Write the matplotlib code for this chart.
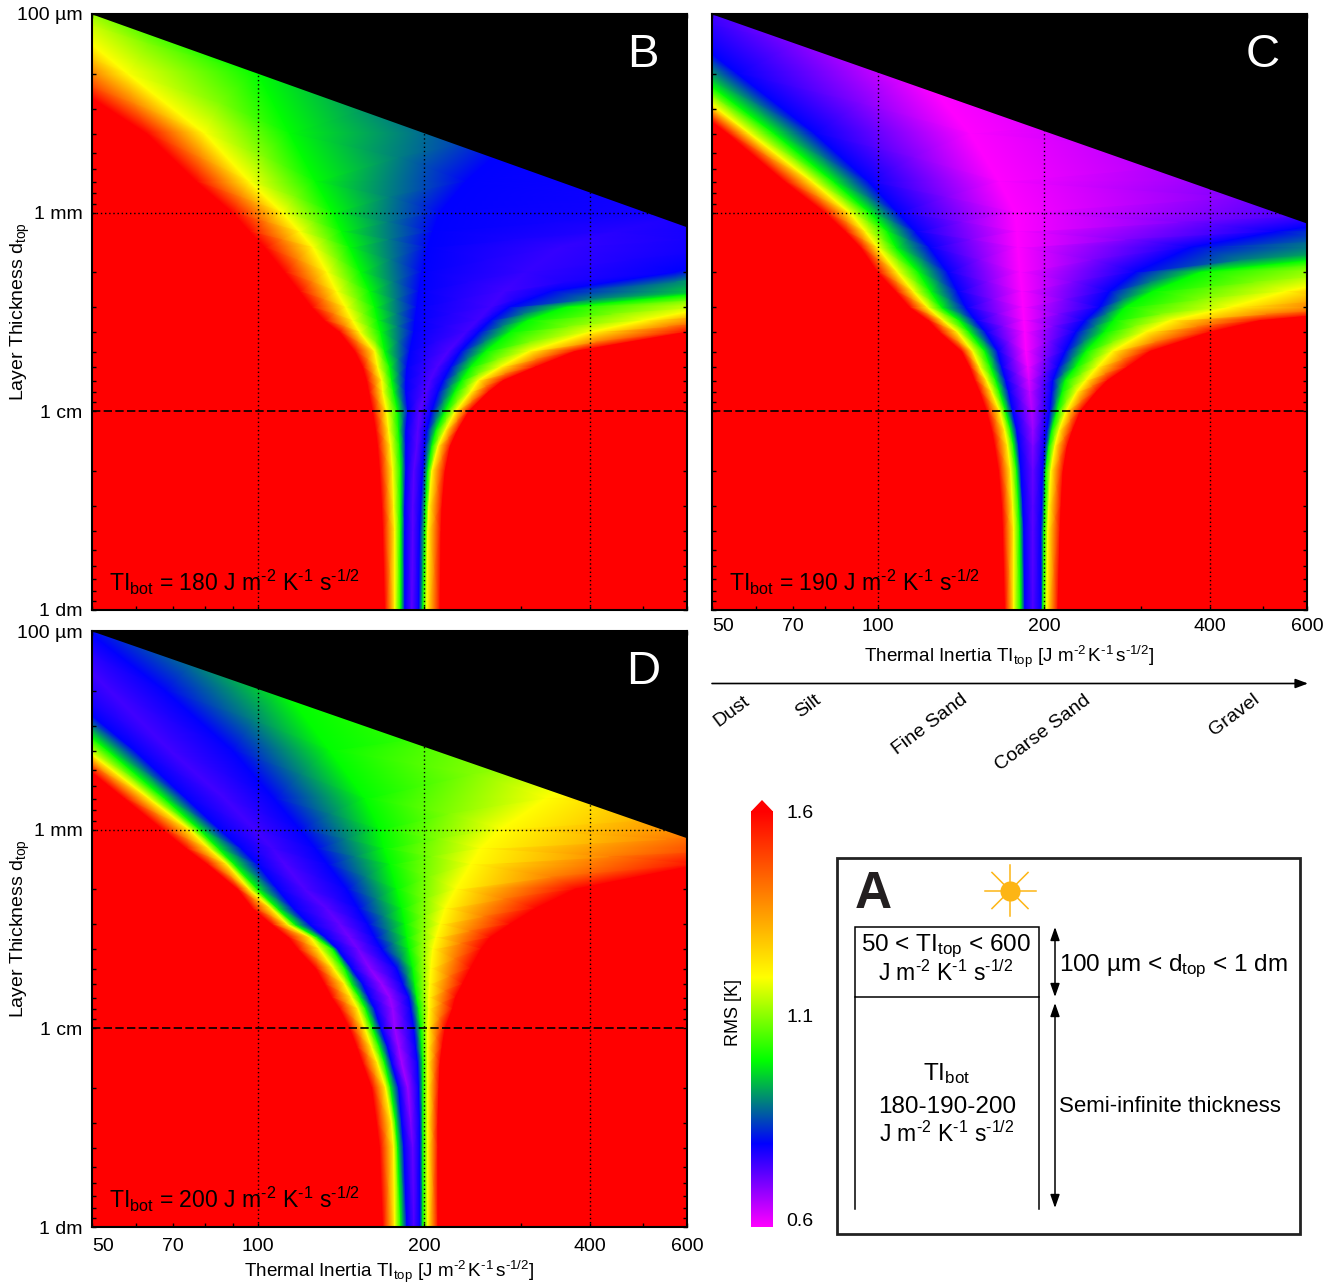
import numpy as np
import matplotlib
matplotlib.use("Agg")
import matplotlib.pyplot as plt
from matplotlib.colors import LinearSegmentedColormap
from matplotlib.patches import Rectangle, Polygon
from matplotlib.ticker import NullFormatter, FixedLocator, LogLocator

plt.rcParams['font.family'] = ['Liberation Sans', 'DejaVu Sans']
plt.rcParams['mathtext.fontset'] = 'custom'
plt.rcParams['mathtext.rm'] = 'Liberation Sans'
plt.rcParams['mathtext.it'] = 'Liberation Sans:italic'
plt.rcParams['mathtext.bf'] = 'Liberation Sans:bold'

W, H = 1338, 1287

# Layer thickness (mm) of each table row
THICKNESS_MM = [0.1, 0.2, 0.4, 0.7, 1, 1.25, 1.5, 2, 2.5, 3, 3.5, 4, 5, 6, 7, 8, 10, 12.5, 15, 20, 30, 40, 100]

# RMS read at the isolines
RMS_RED, RMS_YELLOW, RMS_GREEN, RMS_BLUE = 1.6, 1.2, 1.0, 0.8

# Thermal inertia at which each row crosses: red, yellow, green, blue (left),
# the minimum, then blue, green, yellow, red (right)
B_TI = [
    [30.0, 42.9, 63.7, 180, 800, 1500, 2000, 3000, 4000],
    [42.8, 58.1, 100, 230, 1000, 1500, 2000, 3000, 4000],
    [62.9, 80.2, 114.3, 299, 780, 1500, 2000, 3000, 4000],
    [77.5, 96.7, 127.4, 238.2, 900, 1500, 2000, 3000, 4000],
    [90, 110.9, 136.8, 214, 620, 1100, 1800, 2500, 4000],
    [96.7, 119.2, 142, 207.6, 445, 950, 1400, 2100, 3500],
    [103, 126, 146.8, 203.3, 353, 800, 1100, 1800, 3000],
    [111.9, 133.5, 153.7, 198.3, 305.5, 570, 800, 1300, 2000],
    [119.2, 139, 159.6, 195.8, 278.8, 338.7, 690, 1000, 1500],
    [125.3, 144.4, 163, 194.2, 263.6, 284.7, 361, 660, 1000],
    [132.2, 148.7, 165, 192.6, 250, 263.6, 308, 500, 780],
    [140.8, 153.1, 167.1, 191.8, 238.2, 251, 286.6, 400, 600],
    [150, 163, 169.9, 188.6, 221.5, 233, 258.7, 310.5, 376],
    [155, 165, 173.5, 186.3, 211.2, 223.3, 243, 275, 318.5],
    [157.6, 167.8, 174.9, 185.5, 205, 216.7, 234, 251, 278.8],
    [159, 168.5, 176.4, 185.5, 201.6, 212.1, 227.4, 243, 262],
    [161.6, 171.3, 179.4, 187.1, 196.6, 206.7, 218.6, 228.3, 241.5],
    [163.7, 172.7, 180.1, 185.5, 195, 202.5, 210.3, 218.6, 230.2],
    [165, 174.2, 180.9, 185.5, 194.2, 200.8, 206.7, 212.1, 223.3],
    [166.4, 175.6, 181.7, 185.5, 191.8, 199.1, 203.3, 206.7, 218.6],
    [167.8, 176.4, 181.7, 184.7, 191, 197.5, 201.6, 204.2, 215.8],
    [168.5, 177.2, 181.7, 184.7, 191, 196.6, 200.8, 203.3, 214.9],
    [169.9, 177.2, 181.7, 184.7, 190.2, 195.8, 199.1, 202.5, 214],
]
B_MIN_RMS = [.78, .78, .78, .78, .78, .77, .76, .76, .75, .75, .75, .75, .74, .74, .74, .735, .73, .73, .73, .73, .73, .73, .73]

C_TI = [
    [27.6, 30.6, 33.7, 40.4, 96.7, 2000, 3000, 4000, 6000],
    [38.4, 42.4, 46.6, 55.7, 119, 2000, 3000, 4000, 6000],
    [53.4, 58.6, 65, 76.9, 146.8, 2000, 3000, 4000, 6000],
    [67.9, 76.2, 83.3, 96.3, 166, 1500, 2500, 4000, 6000],
    [80.2, 88.9, 96.7, 108.7, 177.2, 900, 1800, 2500, 4000],
    [87.4, 95.1, 104.2, 117.2, 178.6, 525, 1200, 1800, 2500],
    [93.1, 100, 108, 124.2, 179.4, 368, 1000, 1500, 2000],
    [100, 108.7, 118.7, 133.9, 180.9, 292.7, 384, 800, 1200],
    [107.8, 116.2, 124.8, 139.6, 182.4, 262.6, 314.5, 548, 1000],
    [114.3, 123.2, 130.6, 144.4, 183.2, 252.2, 281, 434, 900],
    [123.7, 131.6, 140.8, 150.7, 184, 237.2, 267.5, 338.7, 493],
    [129.5, 139.6, 146.8, 157, 184.7, 228.3, 257.5, 305.5, 400],
    [142, 148.7, 156.4, 165, 185.5, 218.6, 238.2, 266, 311.6],
    [146.8, 153.1, 160.3, 167.8, 187.1, 212.1, 228.3, 250, 283.5],
    [150, 157.6, 163.7, 170.6, 187.9, 207.6, 218.6, 238.2, 261],
    [153.1, 161, 166.4, 172.7, 188.6, 206.7, 215.8, 229.3, 249],
    [157.6, 166.4, 170.6, 175.6, 190.2, 205, 211.2, 219.5, 233],
    [161, 169.9, 174.2, 178.6, 191, 202.5, 206.7, 213, 225.4],
    [163, 172, 176.4, 180.1, 191, 200.8, 204.2, 209.4, 220.5],
    [165.7, 174.2, 178.6, 181.7, 191, 199.1, 201.6, 205.9, 216.7],
    [167.8, 175.6, 180.1, 183.2, 191, 198.3, 200.8, 204.2, 214.9],
    [168.5, 176.4, 180.9, 184, 191, 197.5, 200, 203.3, 214],
    [169.9, 176.4, 181.7, 184.7, 191, 197.5, 199.1, 202.5, 212.1],
]
C_MIN_RMS = [.6, .6, .6, .6, .6, .6, .6, .6, .6, .6, .6, .6, .6, .61, .63, .645, .66, .68, .70, .72, .73, .73, .74]

D_TI = [
    [24.4, 27.6, 30, 32.7, 42, 49, 92.7, 1500, 4000],
    [32.7, 36.2, 39.4, 44.1, 53.9, 67.9, 111.9, 1500, 4000],
    [44.7, 49, 53.5, 59.8, 69.3, 90, 135, 493, 3000],
    [57.4, 63.7, 67.9, 74.3, 87.1, 107, 156.4, 332, 2000],
    [67.3, 75.3, 78.5, 85.3, 98.8, 119.2, 166.4, 275, 1460],
    [74.3, 81.8, 85, 93.5, 106.4, 127.4, 169.2, 252.9, 900],
    [81.2, 88.2, 90.8, 100, 111.9, 133.9, 173.5, 243, 633],
    [92, 96.7, 100, 108.7, 121.7, 145, 178.6, 228.3, 376],
    [98, 106, 108.7, 116.2, 133.3, 152, 182.4, 218.6, 318.5],
    [106, 113.3, 116.7, 124.2, 140.8, 158.3, 184.7, 214, 286.6],
    [113.8, 124.8, 128.4, 132.8, 146.8, 163, 186.3, 210.3, 263.6],
    [118.2, 129.5, 136.8, 139.6, 152, 167.8, 187.9, 207.6, 254.2],
    [127.4, 137.3, 143.8, 148, 159.6, 178.6, 191, 205.9, 243],
    [132.2, 143.8, 148, 155, 167.8, 183.2, 192.6, 205, 235],
    [136.2, 148, 153.1, 159, 173.5, 187.9, 194.2, 204.2, 228.3],
    [140.8, 152, 157, 163, 175.6, 189.4, 195.8, 204.2, 225.4],
    [146.8, 156.4, 161.6, 167.1, 177.2, 191.8, 197.5, 203.3, 218.6],
    [151.4, 161, 166.4, 172, 180.1, 193.4, 198.3, 203.3, 215.8],
    [155, 165, 169.9, 174.9, 182.4, 195, 199.1, 203.3, 214],
    [161, 170.6, 174.2, 180.1, 187.1, 195.8, 199.1, 203.3, 213],
    [164.3, 174.9, 177.9, 182.4, 189.4, 196.6, 199.1, 203.3, 212.1],
    [166.4, 176.4, 179.4, 184, 191, 196.6, 199.1, 203.3, 212.1],
    [168.5, 177.2, 181.7, 186.3, 191.8, 196.6, 199.1, 203.3, 212.1],
]
D_MIN_RMS = [.75, .75, .75, .75, .75, .75, .74, .74, .73, .72, .71, .71, .69, .68, .68, .68, .68, .675, .67, .68, .70, .72, .74]

# Thickness (mm) bounding the black region at TI = 50 and TI = 600
LIMIT_TI = [50, 600]
B_LIMIT = [0.1, 1.18]
C_LIMIT = [0.1, 1.13]
D_LIMIT = [0.1, 1.10]

X_TICKS = [50, 70, 100, 200, 400, 600]
X_TICK_LABELS = ['50', '70', '100', '200', '400', '600']
Y_TICKS = [0.1, 1, 10, 100]
Y_TICK_LABELS = ['100 µm', '1 mm', '1 cm', '1 dm']
GRID_TI = [100, 200, 400]

MATERIALS = ['Dust', 'Silt', 'Fine Sand', 'Coarse Sand', 'Gravel']
COLORBAR_LABELS = ['1.6', '1.1', '0.6']

UNITS = r'J m$^{\text{-2}}$ K$^{\text{-1}}$ s$^{\text{-1/2}}$'
UNITS_TIGHT = r'J m$^{\text{-2}}\,$K$^{\text{-1}}\,$s$^{\text{-1/2}}$'

cmap = LinearSegmentedColormap.from_list('rms', [
    (0.0, (1, 0, 1)), (0.2, (0, 0, 1)), (0.4, (0, 1, 0)), (0.6, (1, 1, 0)), (1.0, (1, 0, 0))], N=512)

fig = plt.figure(figsize=(W / 100, H / 100), dpi=100, facecolor='white')


def place(x0, y0, x1, y1):
    return [x0 / W, 1 - y1 / H, (x1 - x0) / W, (y1 - y0) / H]


def panel(rect, table, min_rms, limit, tibot, letter, show_x, show_y, x_pad=5, label_pad=5):
    ax = fig.add_axes(place(*rect))
    table = np.asarray(table, float)
    n = len(table)
    X = np.column_stack([np.full(n, 5.0), table, np.full(n, 30000.0)])
    Y = np.repeat(np.asarray(THICKNESS_MM, float)[:, None], X.shape[1], axis=1)
    C = np.column_stack([np.full(n, RMS_RED), np.full(n, RMS_RED), np.full(n, RMS_YELLOW),
                         np.full(n, RMS_GREEN), np.full(n, RMS_BLUE), min_rms,
                         np.full(n, RMS_BLUE), np.full(n, RMS_GREEN), np.full(n, RMS_YELLOW),
                         np.full(n, RMS_RED), np.full(n, RMS_RED)])
    ax.pcolormesh(X, Y, C, shading='gouraud', cmap=cmap, vmin=0.6, vmax=1.6, zorder=1)
    ax.fill_between(LIMIT_TI, limit, [THICKNESS_MM[0]] * 2, color='black', lw=0, zorder=2)
    ax.set_xscale('log')
    ax.set_yscale('log')
    ax.set_xlim(50, 600)
    ax.set_ylim(100, 0.1)
    for t in GRID_TI:
        ax.axvline(t, color='black', lw=1.0, ls=(0, (1, 2)), zorder=3)
    ax.axhline(1, color='black', lw=1.0, ls=(0, (1, 2)), zorder=3)
    ax.axhline(10, color='black', lw=1.2, ls=(0, (5, 2)), zorder=3)
    ax.xaxis.set_major_locator(FixedLocator(X_TICKS))
    ax.xaxis.set_minor_locator(LogLocator(base=10, subs=range(2, 10), numticks=12))
    ax.xaxis.set_minor_formatter(NullFormatter())
    ax.yaxis.set_major_locator(FixedLocator(Y_TICKS))
    ax.yaxis.set_minor_locator(LogLocator(base=10, subs=range(2, 10), numticks=12))
    ax.yaxis.set_minor_formatter(NullFormatter())
    ax.tick_params(which='both', direction='in', top=True, right=True, length=3.2, width=1.0,
                   labelsize=14, zorder=4)
    ax.tick_params(axis='x', which='both', pad=x_pad)
    ax.tick_params(axis='y', which='both', pad=7)
    ax.set_xticklabels(X_TICK_LABELS if show_x else [])
    ax.set_yticklabels(Y_TICK_LABELS if show_y else [])
    if show_x:
        ax.get_xticklabels()[0].set_ha('left')
        ax.set_xlabel(r'Thermal Inertia TI$_{\mathrm{top}}$ [' + UNITS_TIGHT + ']', fontsize=13.6, labelpad=label_pad)
    if show_y:
        ax.set_ylabel(r'Layer Thickness d$_{\mathrm{top}}$', fontsize=14)
        ax.yaxis.set_label_coords(-0.1, 0.5)
    for s in ax.spines.values():
        s.set_linewidth(1.5)
        s.set_zorder(5)
    ax.text(0.926, 0.932, letter, transform=ax.transAxes, fontsize=34, color='white',
            ha='center', va='center', zorder=6)
    ax.text(0.029, 0.047, r'TI$_{\mathrm{bot}}$ = %d ' % tibot + UNITS,
            transform=ax.transAxes, fontsize=16.6, color='black', ha='left', va='center', zorder=6)
    return ax


panel((92, 14, 687, 610), B_TI, B_MIN_RMS, B_LIMIT, 180, 'B', False, True)
panel((712, 14, 1307, 610), C_TI, C_MIN_RMS, C_LIMIT, 190, 'C', True, False, x_pad=5.7, label_pad=6)
panel((92, 631, 687, 1227), D_TI, D_MIN_RMS, D_LIMIT, 200, 'D', True, True, x_pad=8, label_pad=2.5)

# Colour bar
cax = fig.add_axes(place(751, 811, 773, 1227))
cax.imshow(np.linspace(1.6, 0.6, 512)[:, None], aspect='auto', cmap=cmap, vmin=0.6, vmax=1.6)
cax.axis('off')

# Overlay in pixel space for the schematic and annotations
ov = fig.add_axes([0, 0, 1, 1], facecolor='none')
ov.set_xlim(0, W)
ov.set_ylim(H, 0)
ov.axis('off')

ov.add_patch(Polygon([(751, 811.5), (773, 811.5), (762, 800)], closed=True, fc='#ff0000', ec='none'))
for lab, y in zip(COLORBAR_LABELS, [813, 1018, 1222]):
    ov.text(786, y, lab, fontsize=14, ha='left', va='center')
ov.text(733, 1012, 'RMS [K]', fontsize=13, rotation=90, ha='center', va='center')

# Materials arrow
ov.annotate('', xy=(1308, 683.5), xytext=(712, 683.5),
            arrowprops=dict(arrowstyle='-|>,head_length=0.75,head_width=0.28', lw=1.2, color='black',
                            shrinkA=0, shrinkB=0))
for lab, (x, y) in zip(MATERIALS, [(732, 711), (808, 706), (930, 725), (1043, 733), (1234, 715)]):
    ov.text(x, y, lab, fontsize=14, rotation=37, ha='center', va='center', rotation_mode='anchor')

# Schematic A
ov.add_patch(Rectangle((837, 857.5), 463, 376, fc='none', ec='#222222', lw=2.0))
ov.text(873, 895, 'A', fontsize=37, fontweight='bold', color='#231f20', ha='center', va='center')
sun = (1010, 890.5)
for a in np.deg2rad(np.arange(0, 360, 45)):
    ov.plot([sun[0], sun[0] + 25.5 * np.cos(a)], [sun[1], sun[1] + 25.5 * np.sin(a)], color='#fdb515', lw=1.1, zorder=3)
ov.plot([sun[0]], [sun[1]], 'o', ms=14.5, color='#fdb515', mec='none', zorder=4)
ov.add_patch(Rectangle((854.5, 927), 184, 70, fc='none', ec='black', lw=1.1))
ov.plot([854.5, 854.5], [997, 1209], color='black', lw=1.1)
ov.plot([1038.5, 1038.5], [997, 1209], color='black', lw=1.1)
ov.text(946, 946, r'50 < TI$_{\mathrm{top}}$ < 600', fontsize=17.5, ha='center', va='center')
ov.text(946, 973, UNITS, fontsize=16.5, ha='center', va='center')
ov.text(947, 1074, r'TI$_{\mathrm{bot}}$', fontsize=17.5, ha='center', va='center')
ov.text(947, 1107, '180-190-200', fontsize=17.5, ha='center', va='center')
ov.text(947, 1134, UNITS, fontsize=16.5, ha='center', va='center')
for y0, y1 in [(927, 997), (1003, 1208)]:
    ov.annotate('', xy=(1055, y0), xytext=(1055, y1),
                arrowprops=dict(arrowstyle='<|-|>,head_length=0.8,head_width=0.28', lw=1.1, color='black',
                                shrinkA=0, shrinkB=0))
ov.text(1059, 966, r'100 µm < d$_{\mathrm{top}}$ < 1 dm', fontsize=17.5, ha='left', va='center')
ov.text(1059, 1107, 'Semi-infinite thickness', fontsize=16, ha='left', va='center')

fig.savefig('out.png', dpi=100)
